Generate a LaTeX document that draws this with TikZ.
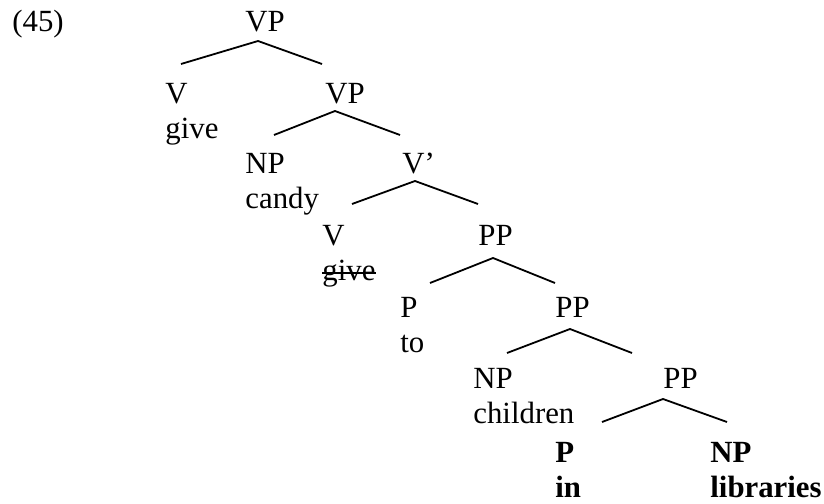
\documentclass[tikz,border=0pt]{standalone}
\usepackage{fontspec}
\setmainfont{Liberation Serif}
\usetikzlibrary{positioning}

\begin{document}
\begin{tikzpicture}[
    x=0.5pt, y=-0.5pt,
    cat/.style={
        anchor=base west,
        inner sep=0pt,
        font=\fontsize{15.4}{18}\selectfont
    },
    word/.style={
        cat
    },
    boldcat/.style={
        cat,
        font=\fontsize{15.4}{18}\selectfont\bfseries
    },
    branch/.style={line width=0.9pt},
    strike/.style={line width=0.7pt}
]
\useasboundingbox (0,0) rectangle (824,503);

% Example number
\node[cat] (exnum) at (12,32) {(45)};

% Level 0
\node[cat] (vp1) at (245,32) {VP};

% Level 1
\node[cat] (v1) at (165,103) {V};
\node[word] (give1) at (165,138) {give};
\node[cat] (vp2) at (325,103) {VP};

% Level 2
\node[cat] (np1) at (245,173) {NP};
\node[word] (candy) at (245,208) {candy};
\node[cat] (vbar) at (402,173) {V’};

% Level 3
\node[cat] (v2) at (322,245) {V};
\node[word] (give2) at (322,280) {give};
\node[cat] (pp1) at (478,245) {PP};

% Level 4
\node[cat] (p1) at (400,317) {P};
\node[word] (to) at (400,352) {to};
\node[cat] (pp2) at (555,317) {PP};

% Level 5
\node[cat] (np2) at (473,388) {NP};
\node[word] (children) at (473,423) {children};
\node[cat] (pp3) at (663,388) {PP};

% Level 6
\node[boldcat] (p2) at (555,462) {P};
\node[boldcat] (in) at (555,497) {in};
\node[boldcat] (np3) at (710,462) {NP};
\node[boldcat] (libraries) at (710,497) {libraries};

% Branches
\draw[branch] ([shift={(16,-39)}]v1.base west) -- ([shift={(13,9)}]vp1.base west) -- ([shift={(-3,-39)}]vp2.base west);
\draw[branch] ([shift={(29,-38)}]np1.base west) -- ([shift={(10,8)}]vp2.base west) -- ([shift={(-2,-38)}]vbar.base west);
\draw[branch] ([shift={(30,-41)}]v2.base west) -- ([shift={(13,8)}]vbar.base west) -- ([shift={(0,-41)}]pp1.base west);
\draw[branch] ([shift={(30,-34)}]p1.base west) -- ([shift={(15,13)}]pp1.base west) -- ([shift={(0,-34)}]pp2.base west);
\draw[branch] ([shift={(34,-35)}]np2.base west) -- ([shift={(15,12)}]pp2.base west) -- ([shift={(-31,-35)}]pp3.base west);
\draw[branch] ([shift={(47,-40)}]p2.base west) -- ([shift={(0,11)}]pp3.base west) -- ([shift={(17,-40)}]np3.base west);

% Deleted copy of the verb
\draw[strike] (give2.west) -- (give2.east);

\end{tikzpicture}
\end{document}
